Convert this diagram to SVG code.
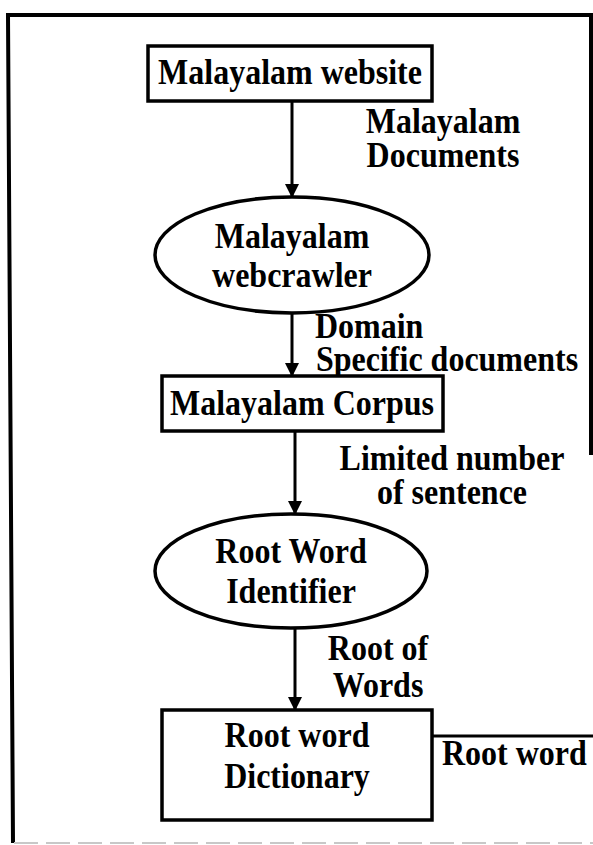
<svg xmlns="http://www.w3.org/2000/svg" width="593" height="845" viewBox="0 0 593 845">
  <style>
    .node { fill: #ffffff; stroke: #000000; stroke-width: 3.5; }
    .edge { fill: none; stroke: #000000; stroke-width: 3; }
    .frame { fill: none; stroke: #000000; stroke-width: 4; }
    .t { font-family: "Liberation Serif", "Times New Roman", serif; font-weight: bold; font-size: 32px; fill: #000000; }
    .c { text-anchor: middle; }
  </style>
  <defs>
    <marker id="arrow" markerWidth="14" markerHeight="14" refX="13" refY="7" orient="auto" markerUnits="userSpaceOnUse">
      <path d="M0,0 L14,7 L0,14 Z" fill="#000000"/>
    </marker>
  </defs>

  <rect width="593" height="845" fill="#ffffff"/>

  <!-- outer frame -->
  <g id="frame">
    <polyline class="frame" points="593,15 8,15 13,843"/>
    <line class="frame" x1="591" y1="15" x2="591" y2="455"/>
    <line x1="14" y1="843" x2="593" y2="843" stroke="#c8c8c8" stroke-width="2" stroke-dasharray="24,8"/>
  </g>

  <!-- connectors -->
  <g id="connectors">
    <line class="edge" x1="292" y1="101" x2="292" y2="197" marker-end="url(#arrow)"/>
    <line class="edge" x1="292" y1="313" x2="292" y2="376" marker-end="url(#arrow)"/>
    <line class="edge" x1="295" y1="431" x2="295" y2="514" marker-end="url(#arrow)"/>
    <line class="edge" x1="295" y1="628" x2="295" y2="710" marker-end="url(#arrow)"/>
    <line class="edge" x1="432" y1="736" x2="593" y2="736"/>
  </g>

  <!-- edge labels -->
  <g id="labels">
    <text class="t c" transform="translate(443,133) scale(1,1.1)">Malayalam</text>
    <text class="t c" transform="translate(443,167) scale(1,1.1)">Documents</text>
    <text class="t" transform="translate(315,338) scale(1,1.1)">Domain</text>
    <text class="t" transform="translate(316,371) scale(1,1.1)">Specific documents</text>
    <text class="t c" transform="translate(452,470) scale(1,1.1)">Limited number</text>
    <text class="t c" transform="translate(452,504) scale(1,1.1)">of sentence</text>
    <text class="t c" transform="translate(378,660) scale(1,1.1)">Root of</text>
    <text class="t c" transform="translate(378,697) scale(1,1.1)">Words</text>
    <text class="t" transform="translate(442,765) scale(1,1.1)">Root word</text>
  </g>

  <g id="website">
    <rect class="node" x="148" y="46" width="284" height="55"/>
    <text class="t c" transform="translate(290,84) scale(1,1.1)">Malayalam website</text>
  </g>

  <g id="webcrawler">
    <ellipse class="node" cx="292" cy="255" rx="137" ry="58"/>
    <text class="t c" transform="translate(292,248) scale(1,1.1)">Malayalam</text>
    <text class="t c" transform="translate(292,287) scale(1,1.1)">webcrawler</text>
  </g>

  <g id="corpus">
    <rect class="node" x="162" y="376" width="281" height="55"/>
    <text class="t c" transform="translate(302,415) scale(1,1.1)">Malayalam Corpus</text>
  </g>

  <g id="identifier">
    <ellipse class="node" cx="291" cy="571" rx="136" ry="57"/>
    <text class="t c" transform="translate(291,563) scale(1,1.1)">Root Word</text>
    <text class="t c" transform="translate(291,603) scale(1,1.1)">Identifier</text>
  </g>

  <g id="dictionary">
    <rect class="node" x="162" y="710" width="270" height="110"/>
    <text class="t c" transform="translate(297,747) scale(1,1.1)">Root word</text>
    <text class="t c" transform="translate(297,788) scale(1,1.1)">Dictionary</text>
  </g>
</svg>
